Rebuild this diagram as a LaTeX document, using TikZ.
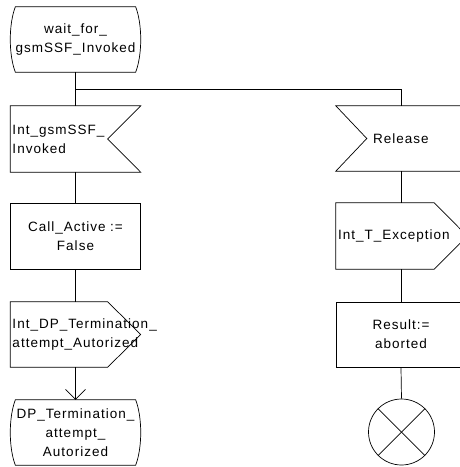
\documentclass[tikz,border=0pt]{standalone}
\usepackage{fontspec}
\setmainfont{Liberation Sans}[LetterSpace=7.5]
\usetikzlibrary{arrows.meta,calc}
\hyphenpenalty=10000
\exhyphenpenalty=10000
\begin{document}
\begin{tikzpicture}[x=1pt,y=-1pt,
  ln/.style={line width=0.7pt, draw=black},
  base/.style={minimum width=130pt, inner sep=2pt, text width=126pt,
    font=\fontsize{13.5}{19}\selectfont},
  ghost/.style={base},
  plain/.style={base, ln},
  ctr/.style={align=center},
  lft/.style={align=left},
  endsym/.style={circle, ln, minimum size=66pt, inner sep=0pt},
  arr/.style={-{Straight Barb[length=10pt,width=20pt,line width=0.7pt]}}
]
\useasboundingbox (0,0) rectangle (459,467);

% left column
\node[ghost,ctr,minimum height=65pt] (s0) at (75.5,39.5) {wait\_for\_\\gsmSSF\_Invoked};
\node[ghost,lft,minimum height=66pt] (in1) at (75.5,139) {Int\_gsmSSF\_\\Invoked};
\node[plain,ctr,minimum height=66pt] (ca) at (75.5,236) {Call\_Active :=\\False};
\node[ghost,lft,minimum height=65pt] (dp) at (75.5,334.5) {\mbox{Int\_DP\_Termination\_}\\\mbox{attempt\_Autorized}};
\node[ghost,ctr,minimum height=65pt] (dt) at (75.5,432.5) {DP\_Termination\_\\attempt\_\\Autorized};

% right column
\node[ghost,lft,minimum height=65pt] (rel) at (401,138.5) {\hspace*{35pt}Release};
\node[ghost,lft,minimum height=66pt] (te) at (401,236) {Int\_T\_Exception};
\node[plain,ctr,minimum height=65pt] (res) at (401,334.5) {Result:=\\aborted};
\node[endsym] (end) at (401.5,432) {};

% symbol outlines
\draw[ln] ($(s0.north west)+(5,0)$) -- ($(s0.north east)+(-5,0)$)
  .. controls ($(s0.north east)+(1.7,18)$) and ($(s0.south east)+(1.7,-18)$) .. ($(s0.south east)+(-5,0)$)
  -- ($(s0.south west)+(5,0)$)
  .. controls ($(s0.south west)+(-1.7,-18)$) and ($(s0.north west)+(-1.7,18)$) .. cycle;
\draw[ln] ($(dt.north west)+(5,0)$) -- ($(dt.north east)+(-5,0)$)
  .. controls ($(dt.north east)+(1.7,18)$) and ($(dt.south east)+(1.7,-18)$) .. ($(dt.south east)+(-5,0)$)
  -- ($(dt.south west)+(5,0)$)
  .. controls ($(dt.south west)+(-1.7,-18)$) and ($(dt.north west)+(-1.7,18)$) .. cycle;
\draw[ln] (in1.north west) -- (in1.north east) -- ($(in1.east)+(-33,0)$)
  -- (in1.south east) -- (in1.south west) -- cycle;
\draw[ln] (dp.north west) -- ($(dp.north east)+(-33,0)$) -- (dp.east)
  -- ($(dp.south east)+(-33,0)$) -- (dp.south west) -- cycle;
\draw[ln] (rel.north west) -- (rel.north east) -- (rel.south east)
  -- (rel.south west) -- ($(rel.west)+(31,0)$) -- cycle;
\draw[ln] (te.north west) -- ($(te.north east)+(-32,0)$) -- ($(te.east)+(1,0)$)
  -- ($(te.south east)+(-32,0)$) -- (te.south west) -- cycle;
\draw[ln] (end.north west) -- (end.south east);
\draw[ln] (end.north east) -- (end.south west);

% connectors
\coordinate (j) at (75.5,89);
\draw[ln] (s0.south) -- (in1.north);
\draw[ln] (j) -| (rel.north);
\draw[ln] (in1.south) -- (ca.north);
\draw[ln] (ca.south) -- (dp.north);
\draw[ln,arr] (dp.south) -- (dt.north);
\draw[ln] (rel.south) -- (te.north);
\draw[ln] (te.south) -- (res.north);
\draw[ln] (res.south) -- (end.north);
\end{tikzpicture}
\end{document}
